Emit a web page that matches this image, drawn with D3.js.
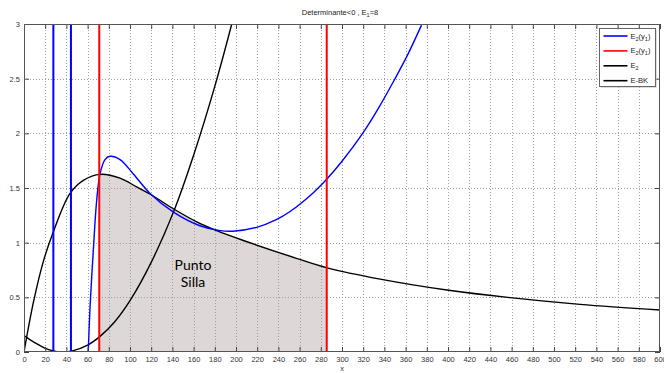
<!DOCTYPE html>
<html>
<head>
<meta charset="utf-8">
<script src="https://cdn.jsdelivr.net/npm/d3@7"></script>
<style>
  body { margin: 0; background: #fff; }
  svg { display: block; font-family: "Liberation Sans", Arial, sans-serif; }
</style>
</head>
<body>
<svg id="chart"></svg>
<script>
// values
const xTicks = d3.range(0, 601, 20)
const yTicks = [0, 0.5, 1, 1.5, 2, 2.5, 3]

// vertical parts of E2(y1) (asymptotes) and the red E2(y1) lines
const blueVerticals = [27.7, 44.3]
const redVerticals = [71, 285.6]

// E2(y1) main branch  [x, y]
const e2y1 = [
  [60.6, 0], [62.3, 0.41], [65.4, 0.93], [68.6, 1.39], [71.7, 1.63], [76.4, 1.76],
  [81, 1.79], [90.6, 1.76], [103, 1.63], [118.9, 1.45], [141, 1.28], [166, 1.155],
  [185, 1.11], [197, 1.105], [219.5, 1.14], [238, 1.21], [251, 1.285], [272.7, 1.455],
  [285.5, 1.58], [300, 1.745], [319.5, 2.0], [335, 2.24], [350, 2.5], [362, 2.72], [375, 2.99]
]

// E2
const e2 = [
  [0, 0.15], [10, 0.086], [20, 0.034], [30, 0.006], [37, 0], [45, 0.008], [60, 0.063],
  [72, 0.145], [85, 0.27], [100, 0.47], [120, 0.82], [141, 1.28], [160, 1.8],
  [180, 2.43], [196, 3.0]
]

// E-BK
const ebk = [
  [0, 0], [9, 0.46], [18, 0.82], [27.7, 1.1], [43.4, 1.45], [56, 1.57], [72, 1.625],
  [90.6, 1.59], [106.3, 1.51], [120.4, 1.436], [140.9, 1.31], [163, 1.19], [181.8, 1.11],
  [207, 1.02], [257, 0.857], [286, 0.77], [336, 0.667], [399, 0.567], [458.5, 0.497],
  [524.5, 0.436], [600, 0.384]
]

// shaded "Punto Silla" zone between the red lines
const shadeRange = [71, 285.6]

const legendItems = [
  {color: '#0000ff', label: ['E', '2', '(y', '1', ')']},
  {color: '#ff0000', label: ['E', '2', '(y', '1', ')']},
  {color: '#000000', label: ['E', '2']},
  {color: '#000000', label: ['E-BK']}
]

const width = 664, height = 373
const margin = {top: 24, right: 4, bottom: 21, left: 24}

const svg = d3.select('#chart').attr('width', width).attr('height', height)

const x = d3.scaleLinear().domain([0, 600]).range([margin.left, width - margin.right])
const y = d3.scaleLinear().domain([0, 3]).range([height - margin.bottom, margin.top])

svg.append('defs').append('clipPath').attr('id', 'plot')
  .append('rect')
  .attr('x', x(0)).attr('y', y(3))
  .attr('width', x(600) - x(0)).attr('height', y(0) - y(3))

svg.select('defs').append('clipPath').attr('id', 'shade')
  .append('rect')
  .attr('x', x(shadeRange[0])).attr('y', y(3))
  .attr('width', x(shadeRange[1]) - x(shadeRange[0])).attr('height', y(0) - y(3))

const smooth = d3.curveCatmullRom.alpha(0.5)

// shaded area under E-BK
svg.append('path')
  .datum(ebk)
  .attr('clip-path', 'url(#shade)')
  .attr('fill', '#ddd7d7')
  .attr('d', d3.area().x(d => x(d[0])).y0(y(0)).y1(d => y(d[1])).curve(smooth))

// dotted grid
const grid = svg.append('g').attr('stroke', '#a0a0a0').attr('stroke-dasharray', '1,2').attr('stroke-width', 1)
grid.selectAll('.gx').data(xTicks.slice(1, -1)).join('line')
  .attr('x1', d => Math.round(x(d)) + 0.5).attr('x2', d => Math.round(x(d)) + 0.5)
  .attr('y1', y(3)).attr('y2', y(0))
grid.selectAll('.gy').data(yTicks.slice(1, -1)).join('line')
  .attr('y1', d => Math.round(y(d)) + 0.5).attr('y2', d => Math.round(y(d)) + 0.5)
  .attr('x1', x(0)).attr('x2', x(600))

// "Punto Silla" label
const note = svg.append('text')
  .attr('font-family', 'Lato, "Open Sans", sans-serif')
  .attr('font-size', 14).attr('fill', '#000').attr('text-anchor', 'middle')
note.append('tspan').attr('x', 193).attr('y', 270).text('Punto')
note.append('tspan').attr('x', 193).attr('y', 287).text('Silla')

const curves = svg.append('g').attr('clip-path', 'url(#plot)').attr('fill', 'none')
const line = d3.line().x(d => x(d[0])).y(d => y(d[1])).curve(smooth)

curves.append('path').datum(e2).attr('stroke', '#000').attr('stroke-width', 1.4).attr('d', line)
curves.append('path').datum(ebk).attr('stroke', '#000').attr('stroke-width', 1.4).attr('d', line)
curves.append('path').datum(e2y1).attr('stroke', '#0000ff').attr('stroke-width', 1.4).attr('d', line)

curves.selectAll('.bv').data(blueVerticals).join('line')
  .attr('x1', d => x(d)).attr('x2', d => x(d))
  .attr('y1', y(0)).attr('y2', y(3))
  .attr('stroke', '#0000ff').attr('stroke-width', 2)

curves.selectAll('.rv').data(redVerticals).join('line')
  .attr('x1', d => x(d)).attr('x2', d => x(d))
  .attr('y1', y(0)).attr('y2', y(3))
  .attr('stroke', '#ff0000').attr('stroke-width', 2)

// axes, ticks pointing inward like matlab
const fmt = d3.format('')
const axisStyle = g => {
  g.select('.domain').remove()
  g.selectAll('line').attr('stroke', '#444')
  g.selectAll('text').attr('fill', '#333').attr('font-size', 7.5)
    .attr('font-family', '"Liberation Sans", Arial, sans-serif')
}

svg.append('g').attr('transform', `translate(0,${y(0)})`)
  .call(d3.axisBottom(x).tickValues(xTicks).tickSizeInner(-5).tickSizeOuter(0).tickPadding(5).tickFormat(fmt))
  .call(axisStyle)
svg.append('g').attr('transform', `translate(0,${y(3)})`)
  .call(d3.axisTop(x).tickValues(xTicks).tickSizeInner(-5).tickSizeOuter(0).tickFormat(''))
  .call(axisStyle)
svg.append('g').attr('transform', `translate(${x(0)},0)`)
  .call(d3.axisLeft(y).tickValues(yTicks).tickSizeInner(-5).tickSizeOuter(0).tickPadding(4).tickFormat(fmt))
  .call(axisStyle)
svg.append('g').attr('transform', `translate(${x(600)},0)`)
  .call(d3.axisRight(y).tickValues(yTicks).tickSizeInner(-5).tickSizeOuter(0).tickFormat(''))
  .call(axisStyle)

// box
svg.append('rect')
  .attr('x', x(0) + 0.5).attr('y', y(3) + 0.5)
  .attr('width', x(600) - x(0) - 1).attr('height', y(0) - y(3) - 1)
  .attr('fill', 'none').attr('stroke', '#555')

// title
const title = svg.append('text')
  .attr('x', 340).attr('y', 15).attr('text-anchor', 'middle')
  .attr('font-size', 7.5).attr('fill', '#222')
title.append('tspan').text('Determinante<0 , E')
title.append('tspan').attr('font-size', 5.5).attr('dy', 2).text('1')
title.append('tspan').attr('dy', -2).text('=8')

// x label
svg.append('text')
  .attr('x', (x(0) + x(600)) / 2).attr('y', 371).attr('text-anchor', 'middle')
  .attr('font-size', 7.5).attr('fill', '#333').text('x')

// legend
const lg = svg.append('g').attr('transform', 'translate(599.5,28.5)')
lg.append('rect').attr('x', 1).attr('y', 1).attr('width', 56).attr('height', 58).attr('fill', '#bbb')
lg.append('rect').attr('width', 56).attr('height', 58).attr('fill', '#fff').attr('stroke', '#666')

const rows = lg.selectAll('.row').data(legendItems).join('g')
  .attr('transform', (d, i) => `translate(0,${7.5 + i * 14.9})`)
rows.append('line').attr('x1', 4).attr('x2', 28).attr('y1', 0).attr('y2', 0)
  .attr('stroke', d => d.color).attr('stroke-width', 1.6)
const lt = rows.append('text').attr('x', 31).attr('y', 2.5).attr('font-size', 7.5).attr('fill', '#222')
lt.each(function (d) {
  const t = d3.select(this)
  d.label.forEach((s, i) => {
    const sub = i % 2 === 1
    t.append('tspan')
      .attr('font-size', sub ? 5.5 : 7.5)
      .attr('dy', sub ? 2 : (i > 0 ? -2 : 0))
      .text(s)
  })
})
</script>
</body>
</html>
